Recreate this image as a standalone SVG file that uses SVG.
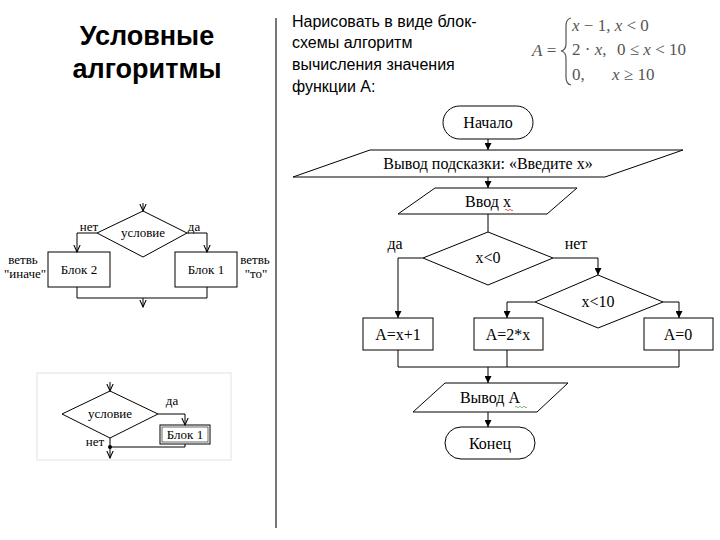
<svg xmlns="http://www.w3.org/2000/svg" width="720" height="540" viewBox="0 0 720 540">
<defs>
<marker id="ah" viewBox="0 0 8 8" refX="8" refY="4" markerWidth="7" markerHeight="7" markerUnits="userSpaceOnUse" orient="auto">
<path d="M0,0 L8,4 L0,8 z" fill="#000"/>
</marker>
<marker id="vh" viewBox="0 0 10 10" refX="9" refY="5" markerWidth="8" markerHeight="8" markerUnits="userSpaceOnUse" orient="auto">
<path d="M0,1 L9,5 L0,9" fill="none" stroke="#000" stroke-width="1.3"/>
</marker>
</defs>
<style>
.sh{fill:#fff;stroke:#000;stroke-width:1}
.ln{fill:none;stroke:#000;stroke-width:1}
.ar{fill:none;stroke:#000;stroke-width:1;marker-end:url(#ah)}
.av{fill:none;stroke:#000;stroke-width:1;marker-end:url(#vh)}
.t{font-family:"Liberation Serif","Times New Roman",serif;font-size:16px;fill:#000;text-anchor:middle}
.s{font-family:"Liberation Serif","Times New Roman",serif;font-size:13px;fill:#000;text-anchor:middle}
.h{font-family:"Liberation Sans",Arial,sans-serif;font-weight:bold;font-size:27px;fill:#000;text-anchor:middle}
.p{font-family:"Liberation Sans",Arial,sans-serif;font-size:16px;fill:#000}
.f{font-family:"Liberation Serif","Times New Roman",serif;font-size:17px;fill:#555}
.fi{font-style:italic}
</style>
<rect width="720" height="540" fill="#fff"/>

<g id="title">
<text class="h" x="147" y="45">Условные</text>
<text class="h" x="147" y="78">алгоритмы</text>
</g>
<line x1="276" y1="18" x2="276" y2="528" stroke="#777" stroke-width="2"/>

<g id="task">
<text class="p" x="292" y="27">Нарисовать в виде блок-</text>
<text class="p" x="292" y="48">схемы алгоритм</text>
<text class="p" x="292" y="70">вычисления значения</text>
<text class="p" x="292" y="92">функции А:</text>
</g>

<g id="formula">
<text class="f" x="532" y="56"><tspan class="fi">A</tspan> =</text>
<path d="M571,18 Q566,19 566,26 L566,44 Q566,50 561,51 Q566,52 566,58 L566,77 Q566,84 571,85" fill="none" stroke="#555" stroke-width="1.2"/>
<text class="f" x="572" y="31"><tspan class="fi">x</tspan> − 1, <tspan class="fi">x</tspan> &lt; 0</text>
<text class="f" x="572" y="55">2 · <tspan class="fi">x</tspan>,</text>
<text class="f" x="617" y="55">0 ≤ <tspan class="fi">x</tspan> &lt; 10</text>
<text class="f" x="572" y="80">0,</text>
<text class="f" x="612" y="80"><tspan class="fi">x</tspan> ≥ 10</text>
</g>

<!-- left top scheme -->
<g id="lt-cond">
<polygon class="sh" points="143,211 187,233 143,257 97,233"/>
<text class="s" x="143" y="237">условие</text>
</g>
<g id="lt-b2">
<rect class="sh" x="48" y="252" width="62" height="35"/>
<text class="s" x="79" y="274">Блок 2</text>
</g>
<g id="lt-b1">
<rect class="sh" x="175" y="252" width="62" height="35"/>
<text class="s" x="206" y="274">Блок 1</text>
</g>
<g id="lt-labels">
<text class="s" x="89" y="231">нет</text>
<text class="s" x="194" y="231">да</text>
<text class="s" x="23" y="264">ветвь</text>
<text class="s" x="25" y="278">"иначе"</text>
<text class="s" x="255" y="264">ветвь</text>
<text class="s" x="256" y="278">"то"</text>
</g>
<g id="lt-conn">
<line class="av" x1="143" y1="203" x2="143" y2="211"/>
<polyline class="av" points="97,233 77,233 77,252"/>
<polyline class="av" points="187,233 207,233 207,252"/>
<polyline class="ln" points="77,287 77,298 207,298 207,287"/>
<line class="av" x1="143" y1="298" x2="143" y2="307"/>
</g>

<!-- left bottom scheme -->
<rect x="37" y="373" width="194" height="87" fill="none" stroke="#e2e2e2" stroke-width="1"/>
<g id="lb-cond">
<polygon class="sh" points="110,391 158,414 110,438 62,414"/>
<text class="s" x="110" y="418">условие</text>
</g>
<g id="lb-b1">
<rect class="sh" x="160" y="425" width="50" height="19" stroke-width="1.2"/>
<rect x="162" y="427" width="46" height="15" fill="none" stroke="#444" stroke-width="0.8"/>
<text class="s" x="185" y="439">Блок 1</text>
</g>
<g id="lb-labels">
<text class="s" x="172" y="405">да</text>
<text class="s" x="95" y="446">нет</text>
</g>
<g id="lb-conn">
<line class="av" x1="110" y1="382" x2="110" y2="391"/>
<polyline class="av" points="158,414 185,414 185,425"/>
<line class="av" x1="110" y1="438" x2="110" y2="458"/>
<polyline class="ln" points="185,444 185,447 110,447"/>
<circle cx="110" cy="447" r="2" fill="#000"/>
</g>

<!-- main flowchart -->
<g id="start">
<rect class="sh" x="443" y="106" width="90" height="33" rx="16.5"/>
<text class="t" x="488" y="128">Начало</text>
</g>
<g id="prompt">
<polygon class="sh" points="370,150 683,150 605,177 293,177"/>
<text class="t" x="488" y="169">Вывод подсказки: «Введите х»</text>
</g>
<g id="input">
<polygon class="sh" points="435,188 577,188 547,214 398,214"/>
<text class="t" x="488" y="207">Ввод х</text>
<path d="M505,210 q1,-1.5 2,0 t2,0 t2,0 t2,0" fill="none" stroke="#d33" stroke-width="0.8"/>
</g>
<g id="cond1">
<polygon class="sh" points="488,232 553,258 488,285 423,258"/>
<text class="t" x="488" y="263">x&lt;0</text>
</g>
<g id="cond2">
<polygon class="sh" points="598,275 663,302 598,328 535,302"/>
<text class="t" x="598" y="307">x&lt;10</text>
</g>
<g id="b1">
<rect class="sh" x="363" y="318" width="70" height="32"/>
<text class="t" x="398" y="340">A=x+1</text>
</g>
<g id="b2">
<rect class="sh" x="474" y="318" width="69" height="32"/>
<text class="t" x="508" y="340">A=2*x</text>
</g>
<g id="b3">
<rect class="sh" x="644" y="318" width="69" height="32"/>
<text class="t" x="678" y="340">A=0</text>
</g>
<g id="output">
<polygon class="sh" points="445,383 568,383 537,412 413,412"/>
<text class="t" x="490" y="403">Вывод А</text>
<path d="M515,407 q1,-1.5 2,0 t2,0 t2,0 t2,0 t2,0 t2,0" fill="none" stroke="#5a5" stroke-width="0.8"/>
</g>
<g id="end">
<rect class="sh" x="445" y="427" width="90" height="32" rx="16"/>
<text class="t" x="490" y="449">Конец</text>
</g>
<g id="labels">
<text class="t" x="395" y="249">да</text>
<text class="t" x="576" y="249">нет</text>
</g>
<g id="connectors">
<line class="ar" x1="488" y1="139" x2="488" y2="150"/>
<line class="ar" x1="488" y1="177" x2="488" y2="188"/>
<line class="ln" x1="488" y1="214" x2="488" y2="232"/>
<polyline class="ar" points="423,258 398,258 398,318"/>
<polyline class="ar" points="553,258 598,258 598,275"/>
<polyline class="ar" points="535,302 507,302 507,318"/>
<polyline class="ar" points="663,302 679,302 679,318"/>
<polyline class="ln" points="398,350 398,367 679,367 679,350"/>
<line class="ln" x1="507" y1="350" x2="507" y2="367"/>
<line class="ar" x1="488" y1="367" x2="488" y2="383"/>
<line class="ar" x1="488" y1="412" x2="488" y2="427"/>
</g>
</svg>
